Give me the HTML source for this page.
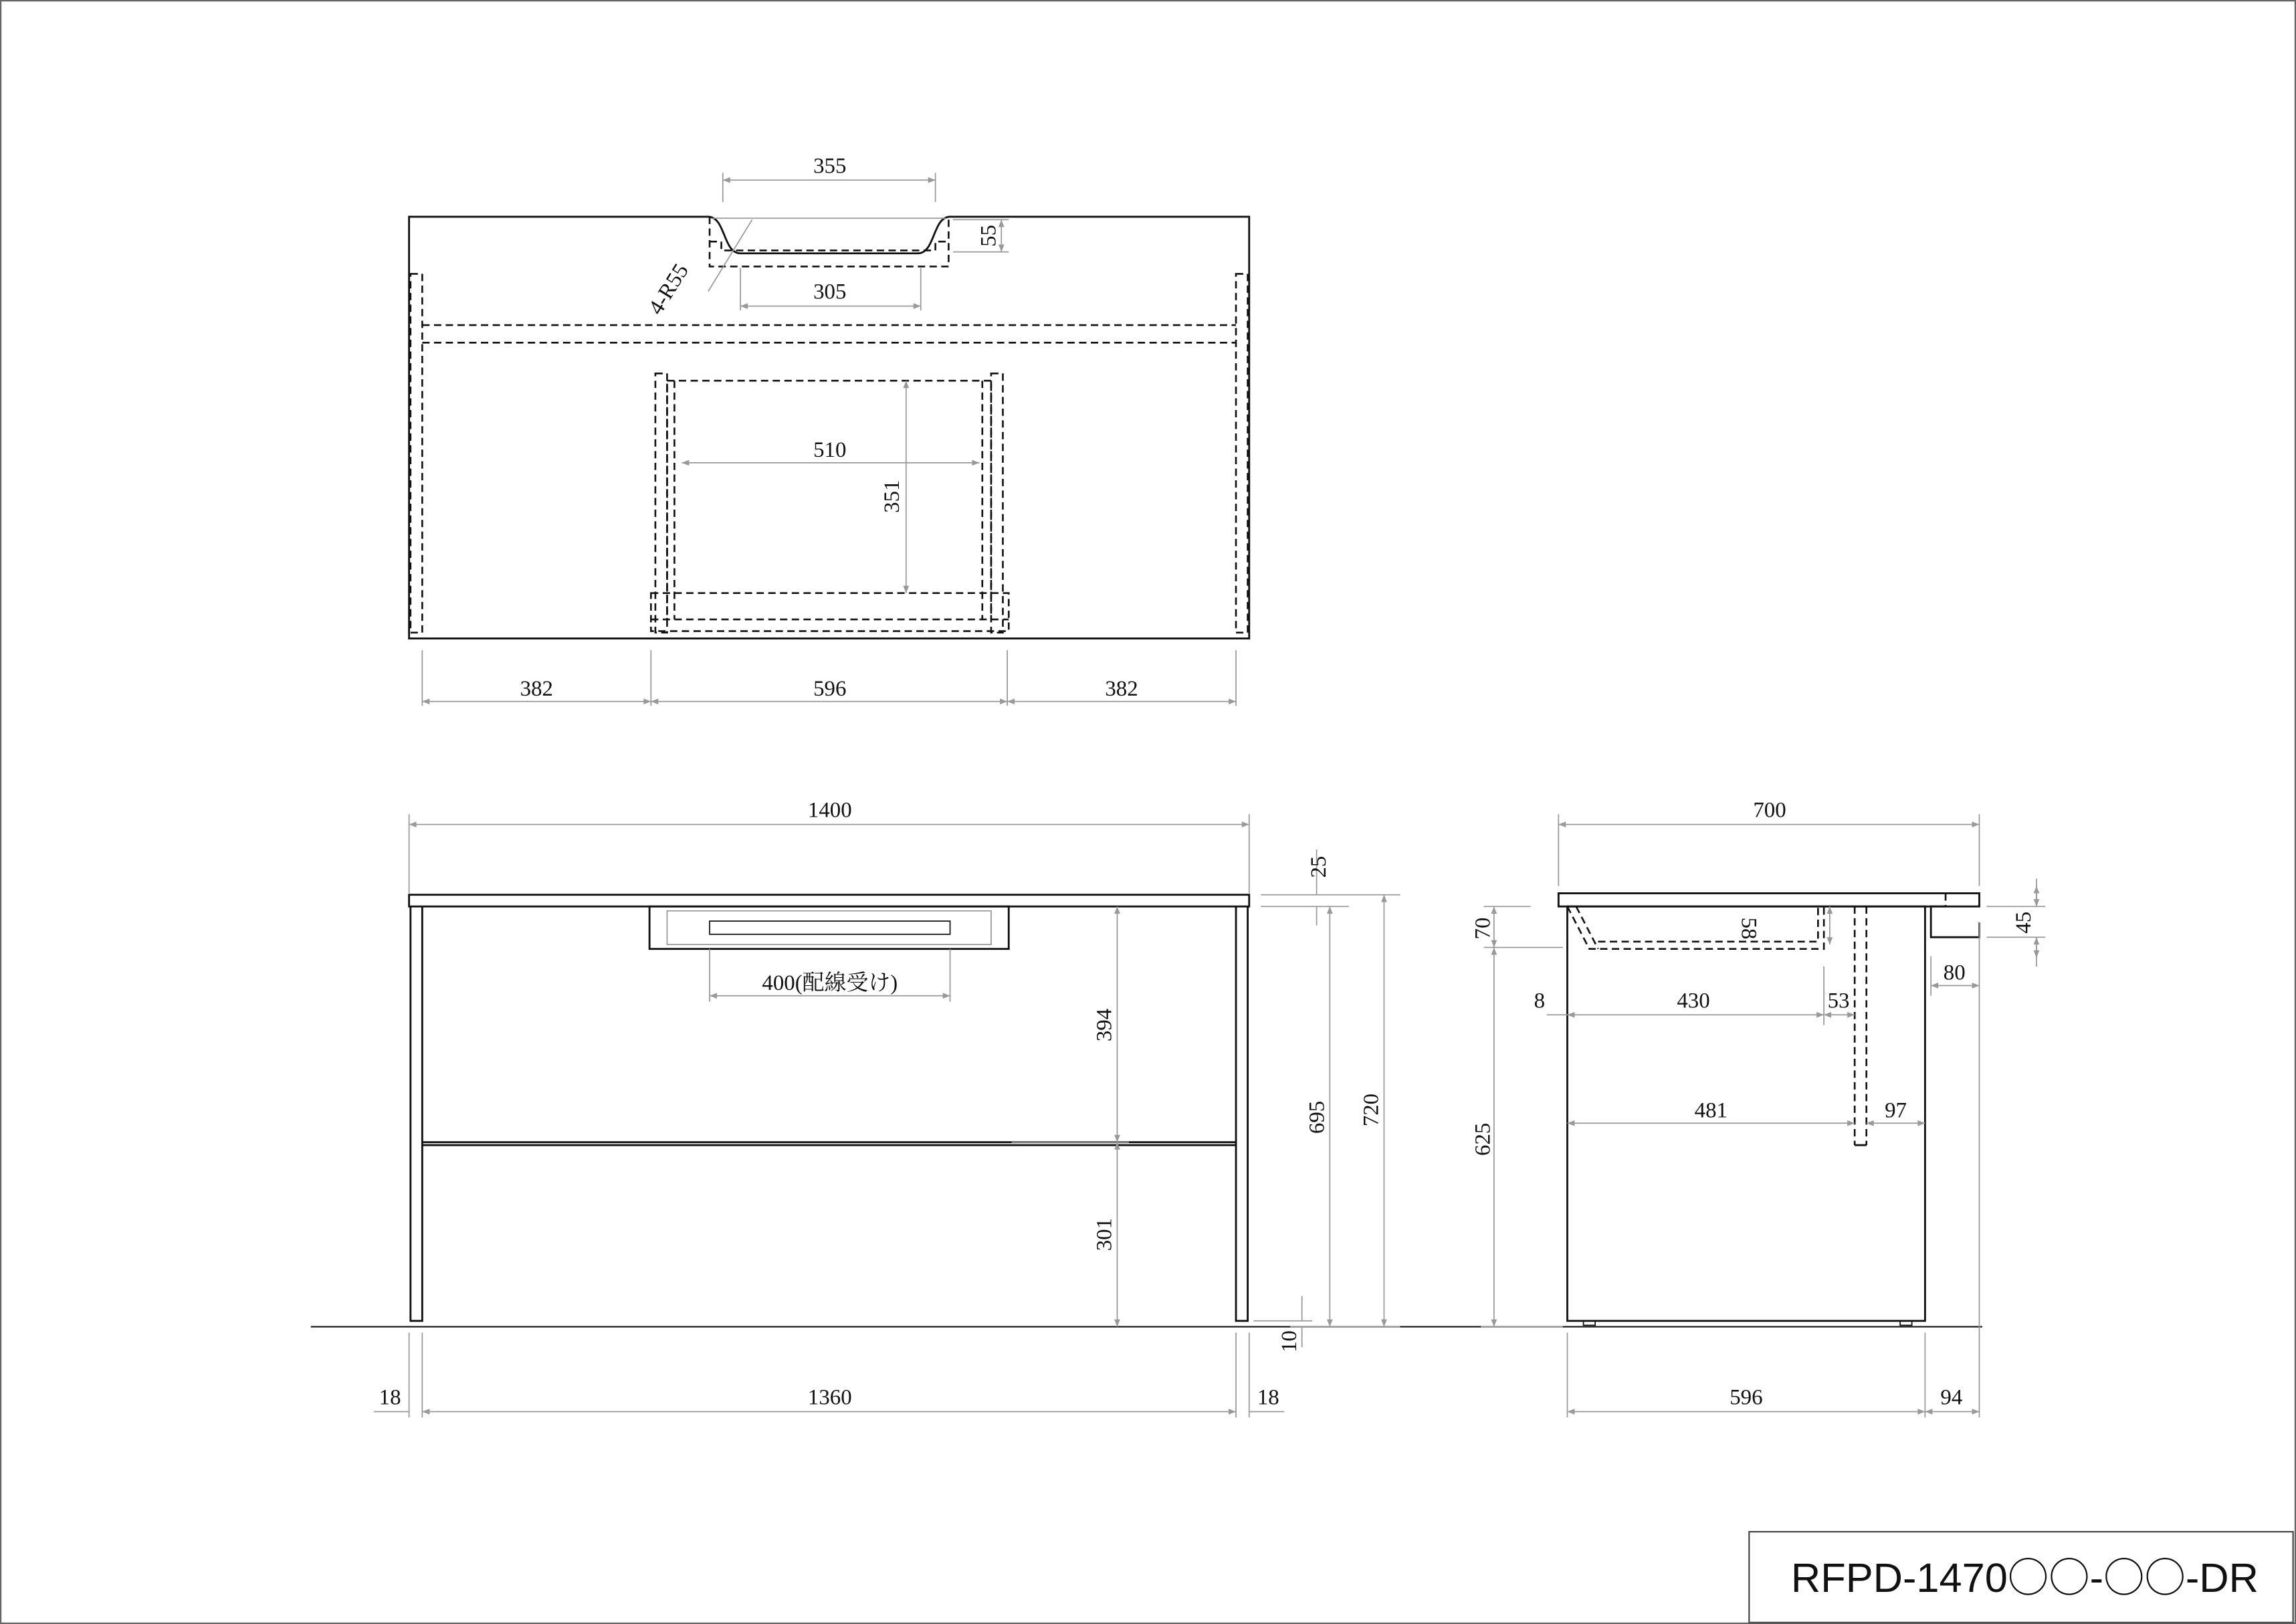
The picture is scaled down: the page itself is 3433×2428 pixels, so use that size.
<!DOCTYPE html>
<html><head><meta charset="utf-8"><style>
html,body{margin:0;padding:0;background:#fff}
svg{display:block}
text{font-family:"Liberation Serif","Noto Serif CJK SC",serif;font-size:15px;fill:#111}
.o{fill:none;stroke:#111;stroke-width:1.3}
.d{fill:none;stroke:#111;stroke-width:1.2;stroke-dasharray:5,3}
.g{fill:none;stroke:#999;stroke-width:0.8}
.a{fill:none;stroke:#999;stroke-width:0.8;marker-start:url(#m);marker-end:url(#m)}
</style></head><body>
<svg width="3433" height="2428" viewBox="0 0 1566 1109" preserveAspectRatio="none" xmlns="http://www.w3.org/2000/svg">
<defs><marker id="m" viewBox="0 0 10 10" refX="10" refY="5" markerWidth="8" markerHeight="5" orient="auto-start-reverse" markerUnits="userSpaceOnUse"><path d="M0,1 L10,5 L0,9 z" fill="#999"/></marker></defs>
<rect x="0.5" y="0.5" width="1565" height="1108" fill="none" stroke="#666" stroke-width="1"/>

<!-- TOP VIEW -->
<path class="o" d="M279,148 H483 C495,148 493,173 505,173 H626 C638,173 636,148 648,148 H852 V436 H279 Z"/>
<line class="g" x1="486" y1="149" x2="645" y2="149"/>
<path class="d" d="M484,148 V182 H647 V148"/>
<path class="d" d="M484,165 H492 V171 H638 V165 H647"/>
<rect class="d" x="280" y="187" width="8" height="245"/>
<rect class="d" x="843" y="187" width="8" height="245"/>
<line class="d" x1="288" y1="222" x2="843" y2="222"/>
<line class="d" x1="288" y1="234" x2="843" y2="234"/>
<rect class="d" x="447" y="255" width="8" height="177"/>
<rect class="d" x="676" y="255" width="8" height="177"/>
<path class="d" d="M455,260 H676 M460,260 V423 M670,260 V423 M455,262 V423 M676,262 V423"/>
<rect class="d" x="444" y="405" width="244" height="26"/>
<line class="d" x1="444" y1="423" x2="688" y2="423"/>
<path class="g" d="M493,118 V138 M638,118 V138 M505,183 V212 M628,183 V212 M650,150 H688 M650,172 H688"/>
<line class="a" x1="493" y1="123" x2="638" y2="123"/>
<text x="566" y="118" text-anchor="middle">355</text>
<line class="a" x1="505" y1="209" x2="628" y2="209"/>
<text x="566" y="204" text-anchor="middle">305</text>
<line class="a" x1="683" y1="150" x2="683" y2="172"/>
<text transform="translate(679,161) rotate(-90)" text-anchor="middle">55</text>
<line class="g" x1="513" y1="150" x2="483" y2="199"/>
<text transform="translate(460,200) rotate(-58)" text-anchor="middle">4-R55</text>
<line class="a" x1="465" y1="316" x2="668" y2="316"/>
<text x="566" y="312" text-anchor="middle">510</text>
<line class="a" x1="618" y1="260" x2="618" y2="405"/>
<text transform="translate(613,339) rotate(-90)" text-anchor="middle">351</text>
<path class="g" d="M288,444 V482 M444,444 V482 M687,444 V482 M843,444 V482"/>
<line class="a" x1="288" y1="479" x2="444" y2="479"/>
<line class="a" x1="444" y1="479" x2="687" y2="479"/>
<line class="a" x1="687" y1="479" x2="843" y2="479"/>
<text x="366" y="475" text-anchor="middle">382</text>
<text x="566" y="475" text-anchor="middle">596</text>
<text x="765" y="475" text-anchor="middle">382</text>

<!-- FRONT VIEW -->
<line x1="212" y1="906" x2="1352" y2="906" stroke="#111" stroke-width="1"/>
<rect class="o" x="279" y="611" width="573" height="8"/>
<path class="o" d="M280,619 V902 H288 V619 M843,619 V902 H851 V619"/>
<path class="o" d="M288,780 H843 M288,782 H843"/>
<rect class="o" x="443" y="619" width="245" height="29"/>
<rect class="g" x="455" y="622" width="221" height="23"/>
<rect class="o" x="484" y="629" width="164" height="9" style="stroke-width:0.8"/>
<path class="g" d="M279,556 V610 M852,556 V610"/>
<line class="a" x1="279" y1="563" x2="852" y2="563"/>
<text x="566" y="558" text-anchor="middle">1400</text>
<path class="g" d="M484,648 V684 M648,648 V684"/>
<line class="a" x1="484" y1="680" x2="648" y2="680"/>
<text x="566" y="676" text-anchor="middle">400(配線受け)</text>
<path class="g" d="M860,611 H955 M860,619 H920 M690,780 H770 M880,906 H955"/>
<line class="a" x1="762" y1="619" x2="762" y2="780"/>
<line class="a" x1="762" y1="780" x2="762" y2="906"/>
<text transform="translate(758,700) rotate(-90)" text-anchor="middle">394</text>
<text transform="translate(758,843) rotate(-90)" text-anchor="middle">301</text>
<line class="a" x1="907" y1="619" x2="907" y2="906"/>
<text transform="translate(903,763) rotate(-90)" text-anchor="middle">695</text>
<line class="a" x1="944" y1="611" x2="944" y2="906"/>
<text transform="translate(940,758) rotate(-90)" text-anchor="middle">720</text>
<path class="g" d="M898,580 V611 M898,619 V632 M888,885 V902 M888,906 V920 M855,902 H895"/>
<text transform="translate(904,592) rotate(-90)" text-anchor="middle">25</text>
<text transform="translate(884,916) rotate(-90)" text-anchor="middle">10</text>
<path class="g" d="M279,910 V968 M288,910 V968 M843,910 V968 M852,910 V968"/>
<line class="a" x1="288" y1="964" x2="843" y2="964"/>
<path class="g" d="M255,964 H279 M852,964 H876"/>
<text x="566" y="959" text-anchor="middle">1360</text>
<text x="266" y="959" text-anchor="middle">18</text>
<text x="865" y="959" text-anchor="middle">18</text>

<!-- SIDE VIEW -->
<rect class="o" x="1063" y="610" width="287" height="9"/>
<line class="d" x1="1327" y1="610" x2="1327" y2="619"/>
<rect class="o" x="1069" y="619" width="244" height="283"/>
<path class="o" d="M1080,902 V905 H1088 V902 M1296,902 V905 H1304 V902" style="stroke-width:0.8"/>
<path class="d" d="M1069,619 L1084,648 H1244 V619 M1075,619 L1090,648 M1090,643 H1240 V620"/>
<path class="d" d="M1265,619 V782 M1273,619 V782"/>
<path class="o" d="M1265,782 H1273"/>
<path class="o" d="M1327,619 H1317 V640 H1350 V630"/>
<path class="g" d="M1063,556 V605 M1350,556 V605"/>
<line class="a" x1="1063" y1="563" x2="1350" y2="563"/>
<text x="1207" y="558" text-anchor="middle">700</text>
<path class="g" d="M1012,619 H1044 M1012,647 H1066 M1010,906 H1066"/>
<line class="a" x1="1019" y1="619" x2="1019" y2="647"/>
<line class="a" x1="1019" y1="647" x2="1019" y2="906"/>
<text transform="translate(1016,634) rotate(-90)" text-anchor="middle">70</text>
<text transform="translate(1016,778) rotate(-90)" text-anchor="middle">625</text>
<line class="a" x1="1248" y1="619" x2="1248" y2="645"/>
<text transform="translate(1188,634) rotate(90)" text-anchor="middle">58</text>
<path class="g" d="M1244,660 V700"/>
<line class="g" x1="1055" y1="693" x2="1069" y2="693"/>
<line class="a" x1="1069" y1="693" x2="1244" y2="693"/>
<line class="a" x1="1244" y1="693" x2="1265" y2="693"/>
<text x="1050" y="688" text-anchor="middle">8</text>
<text x="1155" y="688" text-anchor="middle">430</text>
<text x="1254" y="688" text-anchor="middle">53</text>
<line class="a" x1="1069" y1="767" x2="1265" y2="767"/>
<line class="a" x1="1273" y1="767" x2="1313" y2="767"/>
<text x="1167" y="763" text-anchor="middle">481</text>
<text x="1293" y="763" text-anchor="middle">97</text>
<path class="g" d="M1317,653 V680 M1350,630 V968"/>
<line class="a" x1="1317" y1="673" x2="1350" y2="673"/>
<text x="1333" y="669" text-anchor="middle">80</text>
<path class="g" d="M1355,619 H1395 M1355,640 H1395"/>
<path class="g" d="M1389,600 V619 M1389,640 V660"/>
<line class="a" x1="1389" y1="605" x2="1389" y2="619"/>
<line class="a" x1="1389" y1="654" x2="1389" y2="640"/>
<text transform="translate(1385,630) rotate(-90)" text-anchor="middle">45</text>
<path class="g" d="M1069,910 V968 M1313,910 V968"/>
<line class="a" x1="1069" y1="964" x2="1313" y2="964"/>
<line class="a" x1="1313" y1="964" x2="1350" y2="964"/>
<text x="1191" y="959" text-anchor="middle">596</text>
<text x="1331" y="959" text-anchor="middle">94</text>

<!-- TITLE -->
<rect x="1193" y="1046" width="371" height="62" fill="none" stroke="#444" stroke-width="1"/>
<text x="1381" y="1087" text-anchor="middle" style="font-family:'Liberation Sans','Noto Sans CJK JP',sans-serif;font-size:28px">RFPD-1470<tspan style="font-family:'Noto Sans CJK JP',sans-serif">○○</tspan>-<tspan style="font-family:'Noto Sans CJK JP',sans-serif">○○</tspan>-DR</text>
</svg>
</body></html>
